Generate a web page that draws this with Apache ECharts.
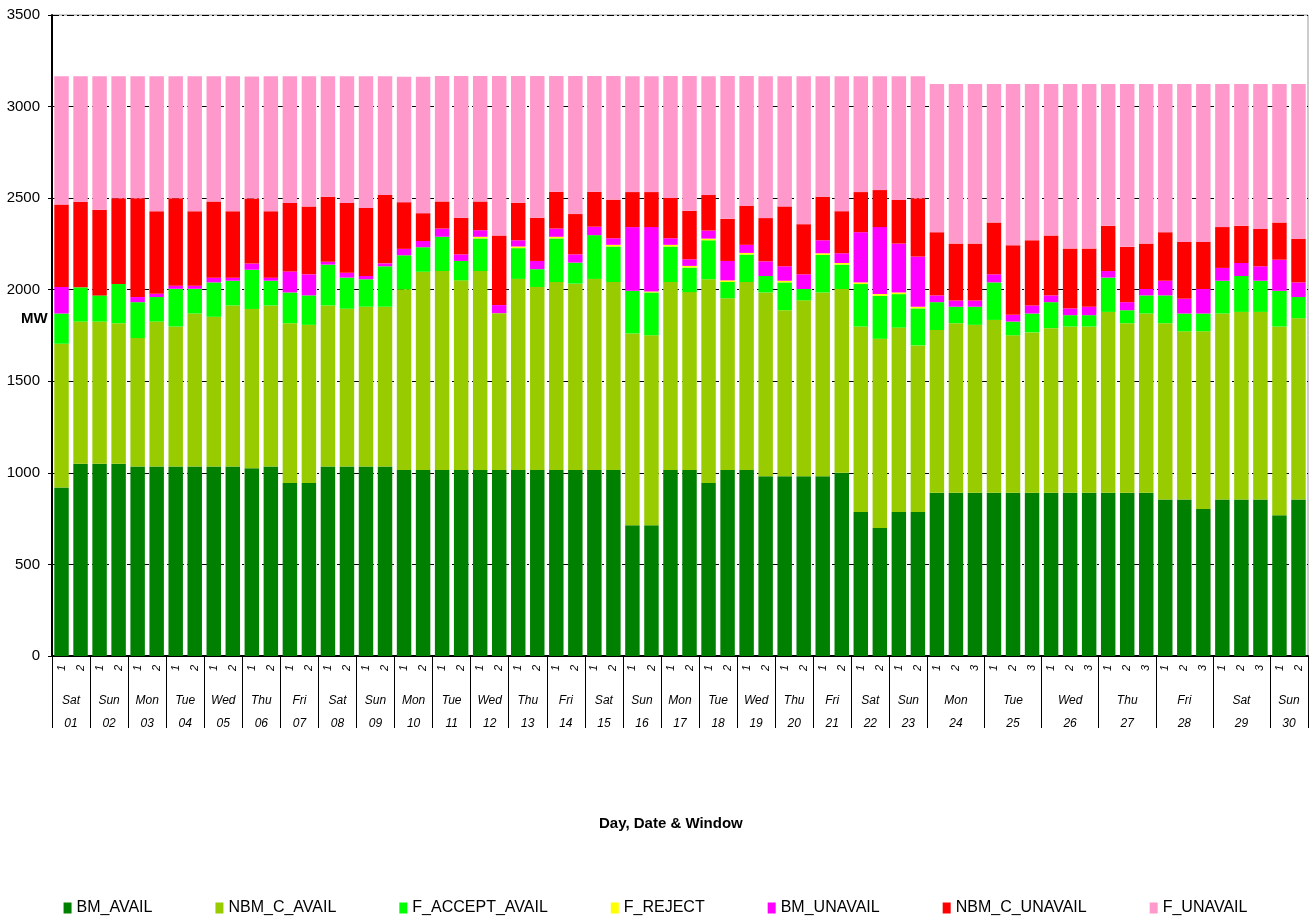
<!DOCTYPE html>
<html>
<head>
<meta charset="utf-8">
<script src="https://cdn.jsdelivr.net/npm/echarts@6/dist/echarts.min.js"></script>
<style>
  html, body { margin: 0; padding: 0; background: #fff; }
  #main { width: 1311px; height: 921px; }
</style>
</head>
<body>
<div id="main"></div>
<script>
// days of the month, windows per day
var dayNames = ['Sat','Sun','Mon','Tue','Wed','Thu','Fri','Sat','Sun','Mon','Tue','Wed','Thu','Fri','Sat',
  'Sun','Mon','Tue','Wed','Thu','Fri','Sat','Sun','Mon','Tue','Wed','Thu','Fri','Sat','Sun'];
var dayDates = ['01','02','03','04','05','06','07','08','09','10','11','12','13','14','15',
  '16','17','18','19','20','21','22','23','24','25','26','27','28','29','30'];
var windowsPerDay = [2,2,2,2,2,2,2,2,2,2,2,2,2,2,2,2,2,2,2,2,2,2,2,3,3,3,3,3,3,2];

// MW per window (stacked)
var bmAvail = [920,1050,1050,1050,1035,1035,1035,1035,1035,1035,1025,1035,945,945,1035,1035,1035,1035,1015,1015,
  1015,1015,1015,1015,1015,1015,1015,1015,1015,1015,714,714,1015,1015,944,1015,1015,982,982,982,
  982,1001,786,699,786,786,892,892,892,892,892,892,892,892,892,892,892,892,855,855,
  803,855,855,855,768,855];
var nbmCAvail = [785,776,776,767,701,791,764,835,817,879,870,879,872,863,879,861,872,872,987,1083,
  1087,1036,1087,857,1044,1000,1027,1018,1044,1027,1047,1037,1027,972,1113,938,1027,1003,906,960,
  1003,1003,1013,1033,1007,910,888,925,916,943,859,875,898,907,907,987,925,978,962,918,
  970,1015,1024,1024,1031,989];
var fAcceptAvail = [165,187,143,214,196,134,206,135,188,135,214,135,168,161,223,170,150,221,186,134,
  187,106,178,0,168,97,238,115,239,194,233,234,194,134,213,89,150,90,152,62,
  205,133,232,235,183,202,152,90,99,205,75,103,142,62,62,187,71,99,152,97,
  97,179,196,170,195,116];
var fReject = [0,0,0,0,0,0,0,0,0,0,0,0,0,0,0,0,0,0,0,0,
  0,0,9,0,9,0,9,0,0,9,0,5,9,9,9,9,9,0,9,0,
  9,9,9,9,9,9,0,0,0,0,0,0,0,0,0,0,0,0,0,0,
  0,0,0,0,0,0];
var bmUnavail = [145,0,0,0,28,18,17,17,26,17,34,17,115,115,16,27,18,16,35,34,
  45,36,36,44,34,45,45,45,46,36,348,352,36,36,44,106,44,80,79,80,
  71,53,274,366,267,274,37,34,34,44,37,44,37,37,46,36,44,35,80,81,
  134,70,71,79,170,80];
var nbmCUnavail = [450,467,468,468,539,451,477,407,416,363,355,363,373,371,355,380,371,373,255,152,
  148,200,157,380,205,236,201,220,191,211,191,191,220,265,194,230,212,236,327,274,
  238,230,219,202,238,318,345,311,311,283,380,356,327,327,318,247,302,248,265,310,
  257,223,203,204,203,237];
var fUnavail = [700,685,728,666,666,736,666,736,683,736,666,736,692,710,657,692,719,648,685,745,
  685,774,685,871,692,774,632,754,632,675,632,632,666,736,648,780,710,774,710,807,
  657,736,632,621,675,666,809,871,871,756,880,853,827,898,898,774,889,871,809,862,
  862,781,774,791,756,846];

var seriesNames = ['BM_AVAIL','NBM_C_AVAIL','F_ACCEPT_AVAIL','F_REJECT','BM_UNAVAIL','NBM_C_UNAVAIL','F_UNAVAIL'];
var seriesColors = ['#008000','#99CC00','#00FF00','#FFFF00','#FF00FF','#FF0000','#FF99CC'];
var seriesData = [bmAvail, nbmCAvail, fAcceptAvail, fReject, bmUnavail, nbmCUnavail, fUnavail];

// window labels + day boundaries/centres on a 0..N scale
var windowLabels = [];
var dayBounds = [0];
var dayCenters = [];
var dayLabelAt = {};
var pos = 0;
windowsPerDay.forEach(function (n, d) {
  for (var w = 1; w <= n; w++) windowLabels.push(String(w));
  dayCenters.push(pos + n / 2);
  dayLabelAt[pos + n / 2] = dayNames[d] + '\n' + dayDates[d];
  pos += n;
  dayBounds.push(pos);
});
var total = pos;

var font = 'Liberation Sans, Arial, sans-serif';

var myChart = echarts.init(document.getElementById('main'));

var option = {
  animation: false,
  textStyle: { fontFamily: font },
  grid: {
    left: 52, right: 3, top: 15, bottom: 265,
    show: true, borderColor: '#9a9a9a', borderWidth: 1
  },
  legend: {
    top: 895,
    left: 'center',
    icon: 'rect',
    itemWidth: 8,
    itemHeight: 11,
    itemGap: 63,
    textStyle: { fontSize: 16, color: '#000', fontFamily: font },
    data: seriesNames
  },
  graphic: [{
    type: 'text',
    left: 21,
    top: 311,
    style: { text: 'MW', font: 'bold 15px ' + font, fill: '#000' }
  }, {
    type: 'text',
    left: 599,
    top: 816,
    style: { text: 'Day, Date & Window', font: 'bold 15px ' + font, fill: '#000' }
  }],
  xAxis: [{
    type: 'category',
    data: windowLabels,
    axisLine: { lineStyle: { color: '#000', width: 2 } },
    axisTick: { interval: 0, length: 26, lineStyle: { color: '#000' } },
    axisLabel: {
      interval: 0, rotate: 90, margin: 9,
      fontSize: 11, fontStyle: 'italic', color: '#000'
    }
  }, {
    type: 'value',
    min: 0,
    max: total,
    position: 'bottom',
    axisLine: { show: false },
    splitLine: { show: false },
    axisTick: {
      show: true, customValues: dayBounds, length: 72,
      lineStyle: { color: '#000' }
    },
    axisLabel: {
      customValues: dayCenters,
      margin: 33,
      fontSize: 12,
      fontStyle: 'italic',
      lineHeight: 23,
      color: '#000',
      formatter: function (v) { return dayLabelAt[v] || ''; }
    }
  }],
  yAxis: {
    type: 'value',
    min: 0,
    max: 3500,
    interval: 500,
    axisLine: { show: true, lineStyle: { color: '#000', width: 2 } },
    axisTick: { show: true, length: 4, lineStyle: { color: '#000' } },
    axisLabel: {
      fontSize: 15, color: '#000', margin: 12,
      formatter: function (v) { return String(v); }
    },
    splitLine: { lineStyle: { color: '#000', type: [7, 3, 2, 3], width: 1 } }
  },
  series: seriesNames.map(function (name, i) {
    return {
      name: name,
      type: 'bar',
      stack: 'total',
      barCategoryGap: '24%',
      itemStyle: { color: seriesColors[i] },
      data: seriesData[i]
    };
  })
};

myChart.setOption(option);
</script>
</body>
</html>
